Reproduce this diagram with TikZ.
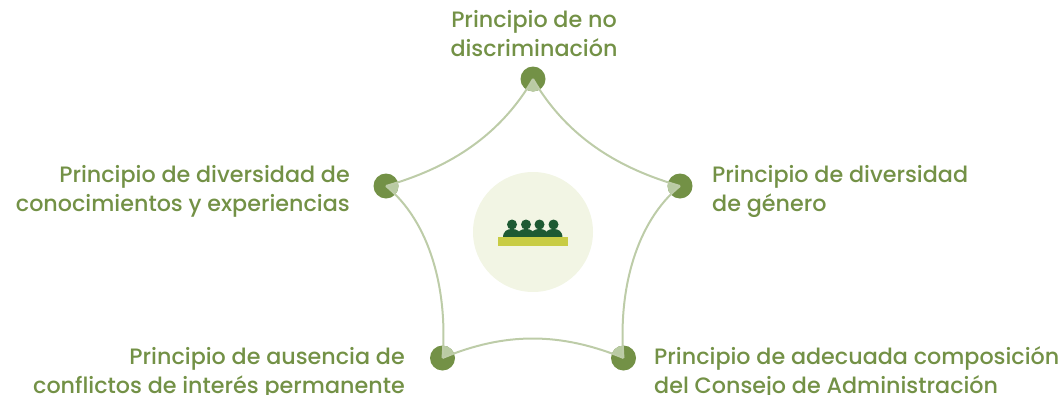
\documentclass[tikz,border=0pt]{standalone}
\usepackage{fontspec}
\setmainfont{Poppins Medium}
\definecolor{dotgreen}{HTML}{739146}
\definecolor{linegreen}{HTML}{BDCCA8}
\definecolor{wedgegreen}{HTML}{B9CBA3}
\definecolor{textgreen}{HTML}{739146}
\definecolor{halo}{HTML}{F2F5E4}
\definecolor{board}{HTML}{C8CC44}
\definecolor{people}{HTML}{1E5A33}
\tikzset{x=1pt,y=-1pt,
  dotnode/.style={circle,fill=dotgreen,inner sep=0pt,minimum size=25pt},
  labeltext/.style={text=textgreen,font=\fontsize{22.25pt}{29pt}\selectfont,inner sep=0pt},
  arcline/.style={draw=linegreen,line width=2pt},
  person/.style={fill=people}
}
\newcommand{\pentapath}{(t.center) .. controls (572,146) and (632,172) .. (r.center)
  .. controls (636,222) and (618,290) .. (br.center)
  .. controls (560,332) and (505,332) .. (bl.center)
  .. controls (448,290) and (430,222) .. (l.center)
  .. controls (434,172) and (494,146) .. (t.center) -- cycle}
\begin{document}
\begin{tikzpicture}
\useasboundingbox (0,0) rectangle (1063,394);
\node[circle,fill=halo,inner sep=0pt,minimum size=120pt] (hub) at (533,232) {};
\foreach \px in {512,526,539.5,553.5}{
  \fill[person] (\px,224.5) circle (5);
  \fill[person] (\px-9,238) .. controls (\px-9,231) and (\px-5,229) .. (\px,229) .. controls (\px+5,229) and (\px+9,231) .. (\px+9,238) -- cycle;
}
\node[fill=board,inner sep=0pt,minimum width=70pt,minimum height=9pt] (bar) at (533,241.5) {};
\node[dotnode] (t) at (533,79) {};
\node[dotnode] (r) at (680,186) {};
\node[dotnode] (br) at (623.5,358) {};
\node[dotnode] (bl) at (442.5,358) {};
\node[dotnode] (l) at (386,186) {};
\foreach \n in {t,r,br,bl,l}{
  \begin{scope}
    \clip (\n) circle (12.5);
    \fill[wedgegreen] \pentapath;
  \end{scope}
}
\draw[arcline] (t.center) .. controls (572,146) and (632,172) .. (r.center);
\draw[arcline] (r.center) .. controls (636,222) and (618,290) .. (br.center);
\draw[arcline] (br.center) .. controls (560,332) and (505,332) .. (bl.center);
\draw[arcline] (bl.center) .. controls (448,290) and (430,222) .. (l.center);
\draw[arcline] (l.center) .. controls (434,172) and (494,146) .. (t.center);
\node[labeltext,align=center,anchor=base] (lt) at (534,56.5) {Principio de no\\discriminación};
\node[labeltext,align=left,anchor=base west] (lr) at (712,211.5) {Principio de diversidad\\de género};
\node[labeltext,align=right,anchor=base east] (ll) at (350,211.5) {Principio de diversidad de\\conocimientos y experiencias};
\node[labeltext,align=right,anchor=base east] (lbl) at (405,393.5) {Principio de ausencia de\\conflictos de interés permanente};
\node[labeltext,align=left,anchor=base west] (lbr) at (654,393.5) {Principio de adecuada composición\\del Consejo de Administración};
\end{tikzpicture}
\end{document}
